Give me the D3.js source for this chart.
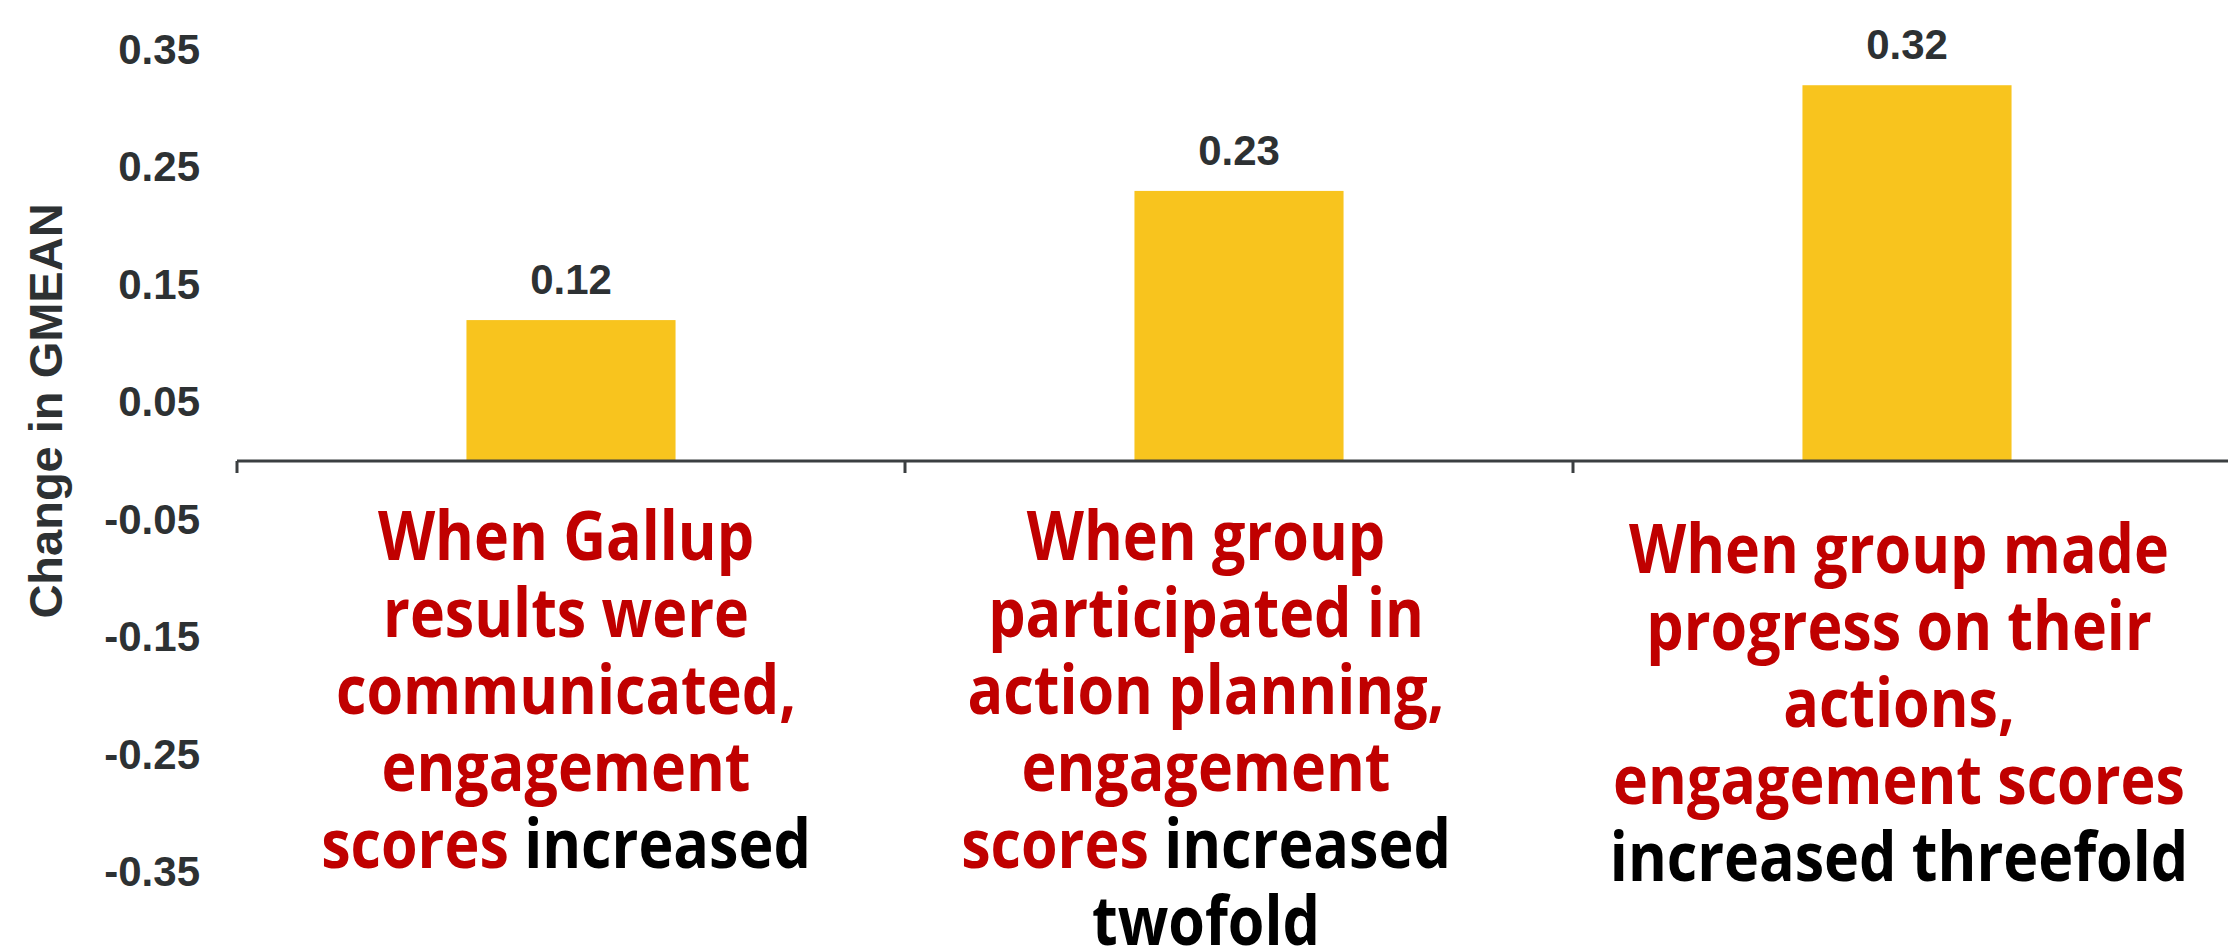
<!DOCTYPE html>
<html>
<head>
<meta charset="utf-8">
<script src="https://cdn.jsdelivr.net/npm/d3@7"></script>
<style>
  body { margin: 0; background: #fff; }
  svg { display: block; }
</style>
</head>
<body>
<svg id="chart"></svg>
<script>
// data
const categories = ["communicated", "action planning", "progress on actions"];
const values = [0.12, 0.23, 0.32];
const yTicks = [0.35, 0.25, 0.15, 0.05, -0.05, -0.15, -0.25, -0.35];
const yTitle = "Change in GMEAN";

// category captions: each line is a list of [text, colour key]
const captions = [
  [
    [["When Gallup", "r"]],
    [["results were", "r"]],
    [["communicated,", "r"]],
    [["engagement", "r"]],
    [["scores ", "r"], ["increased", "k"]]
  ],
  [
    [["When group", "r"]],
    [["participated in", "r"]],
    [["action planning,", "r"]],
    [["engagement", "r"]],
    [["scores ", "r"], ["increased", "k"]],
    [["twofold", "k"]]
  ],
  [
    [["When group made", "r"]],
    [["progress on their", "r"]],
    [["actions,", "r"]],
    [["engagement scores", "r"]],
    [["increased threefold", "k"]]
  ]
];

// layout
const width = 2228, height = 946;
const textColor = "#2d3133";
const barColor = "#f8c41e";
const captionColors = { r: "#c00000", k: "#000000" };
const captionDx = [-5, -33, -8];   // text boxes sit a bit off the bar centres
const captionDy = [0, 0, 13];
const captionTop = 560, lineStep = 77, captionScaleX = 0.87;

const svg = d3.select("#chart")
  .attr("width", width)
  .attr("height", height)
  .attr("viewBox", [0, 0, width, height]);

const y = d3.scaleLinear()
  .domain([-0.35, 0.35])
  .range([872, 50]);

const x = d3.scaleBand()
  .domain(categories)
  .range([237, 2241])
  .paddingInner(0.687)
  .paddingOuter(0.3435);

// y tick labels
const yAxis = svg.append("g")
  .attr("transform", "translate(200,0)")
  .call(d3.axisLeft(y).tickValues(yTicks).tickSize(0).tickPadding(0)
    .tickFormat(d => d.toFixed(2)));
yAxis.select(".domain").remove();
yAxis.selectAll("text")
  .attr("font-family", "'Liberation Sans', Arial, sans-serif")
  .attr("font-weight", "bold")
  .attr("font-size", 42)
  .attr("fill", textColor);

// y title
svg.append("text")
  .attr("transform", "translate(62,411) rotate(-90)")
  .attr("text-anchor", "middle")
  .attr("font-family", "'Liberation Sans', Arial, sans-serif")
  .attr("font-weight", "bold")
  .attr("font-size", 47)
  .attr("fill", textColor)
  .text(yTitle);

// bars
svg.append("g")
  .selectAll("rect")
  .data(values)
  .join("rect")
  .attr("x", (d, i) => x(categories[i]))
  .attr("width", x.bandwidth())
  .attr("y", d => y(d))
  .attr("height", d => y(0) - y(d))
  .attr("fill", barColor);

// value labels
svg.append("g")
  .selectAll("text")
  .data(values)
  .join("text")
  .attr("x", (d, i) => x(categories[i]) + x.bandwidth() / 2)
  .attr("y", d => y(d) - 26)
  .attr("text-anchor", "middle")
  .attr("font-family", "'Liberation Sans', Arial, sans-serif")
  .attr("font-weight", "bold")
  .attr("font-size", 42)
  .attr("fill", textColor)
  .text(d => d.toFixed(2));

// category axis line with ticks between categories
const x0 = x.range()[0], x1 = x.range()[1], y0 = y(0);
const axis = svg.append("g").attr("stroke", "#3b3f41").attr("stroke-width", 3);
axis.append("line")
  .attr("x1", x0).attr("x2", x1)
  .attr("y1", y0).attr("y2", y0);
axis.selectAll("line.tick")
  .data(d3.range(categories.length + 1))
  .join("line")
  .attr("class", "tick")
  .attr("x1", i => x0 + i * x.step())
  .attr("x2", i => x0 + i * x.step())
  .attr("y1", y0)
  .attr("y2", y0 + 12);

// category captions, one text per caption, lines as tspans
const capText = svg.append("g")
  .selectAll("g")
  .data(captions)
  .join("g")
  .attr("transform", (d, i) =>
    `translate(${x(categories[i]) + x.bandwidth() / 2 + captionDx[i]},${captionTop + captionDy[i]}) scale(${captionScaleX},1)`)
  .append("text")
  .attr("text-anchor", "middle")
  .attr("font-family", "'Open Sans', 'Noto Sans', sans-serif")
  .attr("font-weight", 700)
  .attr("font-size", 68);

capText.each(function(lines) {
  const t = d3.select(this);
  lines.forEach((parts, j) => {
    parts.forEach((p, k) => {
      const ts = t.append("tspan")
        .attr("fill", captionColors[p[1]])
        .text(p[0]);
      if (k === 0) ts.attr("x", 0).attr("y", j * lineStep);
    });
  });
});
</script>
</body>
</html>
